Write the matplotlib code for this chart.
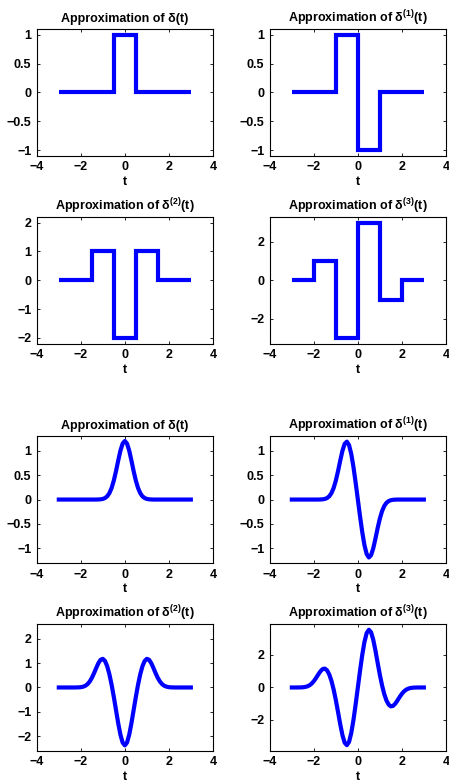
import numpy as np
import matplotlib
matplotlib.use("Agg")
import matplotlib.pyplot as plt

plt.rcParams['font.family'] = ['Liberation Sans', 'DejaVu Sans']
plt.rcParams['font.weight'] = 'bold'
plt.rcParams['mathtext.fontset'] = 'custom'
plt.rcParams['mathtext.rm'] = 'Liberation Sans:bold'
plt.rcParams['mathtext.bf'] = 'Liberation Sans:bold'

# step approximations: bin edges and level in each bin
edges0 = [-3, -0.5, 0.5, 3]
steps0 = [0, 1, 0]
edges1 = [-3, -1, 0, 1, 3]
steps1 = [0, 1, -1, 0]
edges2 = [-3, -1.5, -0.5, 0.5, 1.5, 3]
steps2 = [0, 1, -2, 1, 0]
edges3 = [-3, -2, -1, 0, 1, 2, 3]
steps3 = [0, 1, -3, 3, -1, 0]

# smooth approximations sampled every 0.1 on [-3, 3]
t_smooth = np.linspace(-3, 3, 61)
smooth0 = [0] * 18 + [0.002, 0.005, 0.013, 0.031, 0.067, 0.132, 0.238, 0.390, 0.584, 0.800, 1.002, 1.147,
                      1.200,
                      1.147, 1.002, 0.800, 0.584, 0.390, 0.238, 0.132, 0.067, 0.031, 0.013, 0.005, 0.002] + [0] * 18
smooth1 = [0] * 13 + [0.002, 0.005, 0.013, 0.031, 0.067, 0.132, 0.238, 0.390, 0.584, 0.800, 1.000, 1.142,
                      1.187, 1.116, 0.935, 0.668, 0.346,
                      0,
                      -0.346, -0.668, -0.935, -1.116, -1.187, -1.142, -1.000, -0.800, -0.584, -0.390,
                      -0.238, -0.132, -0.067, -0.031, -0.013, -0.005, -0.002] + [0] * 13
smooth2 = [0] * 8 + [0.002, 0.005, 0.013, 0.031, 0.067, 0.132, 0.238, 0.390, 0.584, 0.800, 0.998, 1.137,
                     1.174, 1.085, 0.868, 0.536, 0.108, -0.390, -0.930, -1.467, -1.935, -2.258,
                     -2.374,
                     -2.258, -1.935, -1.467, -0.930, -0.390, 0.108, 0.536, 0.868, 1.085, 1.174, 1.137,
                     0.998, 0.800, 0.584, 0.390, 0.238, 0.132, 0.067, 0.031, 0.013, 0.005, 0.002] + [0] * 8
smooth3 = [0] * 3 + [0.002, 0.005, 0.013, 0.031, 0.067, 0.132, 0.238, 0.390, 0.584, 0.800, 0.996, 1.132,
                     1.161, 1.054, 0.801, 0.404, -0.130, -0.780, -1.514, -2.268, -2.933, -3.395, -3.548,
                     -3.343, -2.803, -2.004, -1.038,
                     0,
                     1.038, 2.004, 2.803, 3.343, 3.548, 3.395, 2.933, 2.268, 1.514, 0.780, 0.130, -0.404,
                     -0.801, -1.054, -1.161, -1.132, -0.996, -0.800, -0.584, -0.390, -0.238, -0.132,
                     -0.067, -0.031, -0.013, -0.005, -0.002] + [0] * 3

titles = ['Approximation of δ(t)',
          'Approximation of δ$^{\\mathrm{(1)}}$(t)',
          'Approximation of δ$^{\\mathrm{(2)}}$(t)',
          'Approximation of δ$^{\\mathrm{(3)}}$(t)']
step_ylims = [1.1, 1.1, 2.2, 3.3]
smooth_ylims = [1.3, 1.3, 2.6, 3.9]
yticks = [[-1, -0.5, 0, 0.5, 1], [-1, -0.5, 0, 0.5, 1], [-2, -1, 0, 1, 2], [-2, 0, 2]]

fig = plt.figure(figsize=(4.49, 7.83), dpi=100)
lefts = [0.082, 0.601]
bottoms = [0.801, 0.561, 0.281, 0.041]
w, h = 0.392, 0.162

step_data = [(edges0, steps0), (edges1, steps1), (edges2, steps2), (edges3, steps3)]
smooth_data = [smooth0, smooth1, smooth2, smooth3]


def style(ax, i, lim):
    ax.set_xlim(-4, 4)
    ax.set_ylim(-lim, lim)
    ax.set_xticks([-4, -2, 0, 2, 4])
    ax.set_yticks(yticks[i])
    ax.set_yticklabels([('%g' % v).replace('-', '\u2212') for v in yticks[i]])
    ax.tick_params(direction='in', top=True, right=True, length=2.5, width=0.6,
                   labelsize=9, pad=4)
    for s in ax.spines.values():
        s.set_linewidth(0.8)
    ax.set_title(titles[i], fontsize=9, fontweight='bold', pad=5)
    ax.set_xlabel('t', fontsize=9, fontweight='bold', labelpad=2)


for i in range(4):
    r, c = divmod(i, 2)
    ax = fig.add_axes([lefts[c], bottoms[r], w, h])
    e, v = step_data[i]
    ax.stairs(v, e, baseline=None, color='blue', linewidth=3)
    style(ax, i, step_ylims[i])

    ax = fig.add_axes([lefts[c], bottoms[r + 2], w, h])
    ax.plot(t_smooth, smooth_data[i], color='blue', linewidth=3)
    style(ax, i, smooth_ylims[i])

fig.savefig('out.png', dpi=100)
